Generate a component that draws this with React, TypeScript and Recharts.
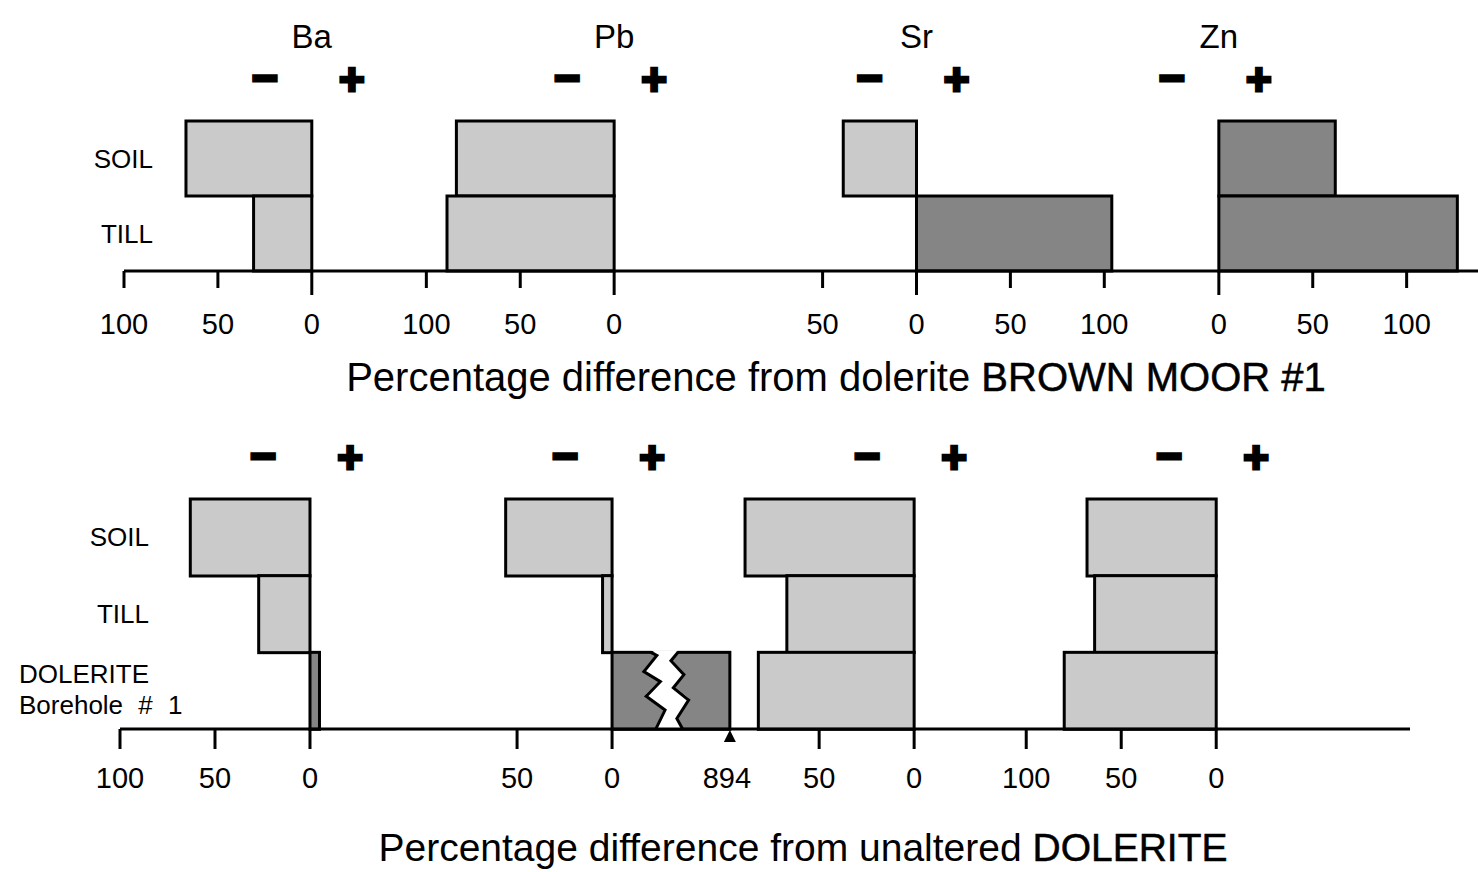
import { ComposedChart, Bar, XAxis, YAxis } from "recharts";

const FONT = "'Liberation Sans', Arial, Helvetica, sans-serif";
const LIGHT = "#cacaca";
const DARK = "#858585";

const elements = ["Ba", "Pb", "Sr", "Zn"];

// top panel: difference from dolerite BROWN MOOR #1
const topRows = ["SOIL", "TILL"];
const topBa = [-67, -31];
const topPb = [-84, -89];
const topSr = [-39, 104];
const topZn = [62, 127];
const topOffsets = [0, 161, 322, 483]; // where each element's zero sits on the shared axis
const topTicks = [
  [-100, -50, 0],
  [-100, -50, 0],
  [-50, 0, 50, 100],
  [0, 50, 100],
];

// bottom panel: difference from unaltered dolerite
const bottomRows = ["SOIL", "TILL", "DOLERITE"];
const bottomBa = [-63, -27, 5];
const bottomPb = [-56, -5, 894];
const bottomSr = [-89, -67, -82];
const bottomZn = [-68, -64, -80];
const bottomOffsets = [0, 159, 318, 477];
const bottomTicks = [
  [-100, -50, 0],
  [-50, 0, 894],
  [-50, 0],
  [-100, -50, 0],
];

// values past this are drawn on a broken axis
const BREAK_LIMIT = 200;
const BREAK_SHOWN = 62;
const shown = (v: number) => (v > BREAK_LIMIT ? BREAK_SHOWN : v);

const buildRows = (rows: string[], series: number[][], offsets: number[]) =>
  rows.map((row, i) => {
    const o: any = { row };
    series.forEach((vals, k) => {
      const v = shown(vals[i]);
      o[elements[k]] = [offsets[k] + Math.min(0, v), offsets[k] + Math.max(0, v)];
      o[elements[k] + "_raw"] = vals[i];
    });
    return o;
  });

// zigzag edges of the break, as fractions of the bar box
const ZIG_L = [[0.33, 0], [0.38, 0.04], [0.27, 0.25], [0.41, 0.38], [0.29, 0.57], [0.45, 0.75], [0.37, 1]];
const ZIG_R = [[0.56, 0], [0.5, 0.11], [0.61, 0.29], [0.52, 0.46], [0.65, 0.62], [0.55, 0.86], [0.6, 1]];

const makeShape = (el: string) => (p: any) => {
  const raw = p.payload[el + "_raw"];
  const { x, y, width, height } = p;
  const fill = raw > 0 ? DARK : LIGHT;
  const rect = (
    <rect x={x} y={y} width={width} height={height} fill={fill} stroke="#000" strokeWidth={3} />
  );
  if (raw <= BREAK_LIMIT) return rect;
  const pt = (a: number[]) => `${x + a[0] * width},${y + a[1] * height}`;
  const gap = [...ZIG_L, ...[...ZIG_R].reverse()].map(pt).join(" ");
  return (
    <g>
      {rect}
      <polygon points={gap} fill="#fff" stroke="none" transform="translate(0,-2)" />
      <polygon points={gap} fill="#fff" stroke="none" />
      <polyline points={ZIG_L.map(pt).join(" ")} fill="none" stroke="#000" strokeWidth={3} />
      <polyline points={ZIG_R.map(pt).join(" ")} fill="none" stroke="#000" strokeWidth={3} />
    </g>
  );
};

type PanelProps = {
  rows: string[];
  series: number[][];
  offsets: number[];
  ticks: number[][];
  domain: [number, number];
  width: number;
  height: number;
  headH: number;
  footH: number;
  yW: number;
  marginRight: number;
  names: boolean;
  tickLen: number;
  zeroLen: number;
  labelDy: number;
  title: [string, string];
  titleX: number;
  titleDy: number;
  titleSize: number;
  top: number;
};

const Panel = (P: PanelProps) => {
  const data = buildRows(P.rows, P.series, P.offsets);
  const meta = new Map<number, { label: string; zero: boolean; marker: boolean }>();
  P.ticks.forEach((arr, k) =>
    arr.forEach((t) => {
      meta.set(P.offsets[k] + shown(t), {
        label: String(Math.abs(t)),
        zero: t === 0,
        marker: t > BREAK_LIMIT,
      });
    })
  );
  const tickValues = Array.from(meta.keys()).sort((a, b) => a - b);

  const renderTick = (p: any) => {
    const m = meta.get(p.payload.value);
    if (!m) return <g />;
    const { x, y } = p;
    return (
      <g>
        {m.marker ? (
          <polygon points={`${x},${y + 1} ${x - 6},${y + 13} ${x + 6},${y + 13}`} fill="#000" />
        ) : (
          <line x1={x} y1={y} x2={x} y2={y + (m.zero ? P.zeroLen : P.tickLen)} stroke="#000" strokeWidth={3} />
        )}
        <text x={m.marker ? x - 3 : x} y={y + P.labelDy} textAnchor="middle" fontSize={29} fontFamily={FONT} fill="#000">
          {m.label}
        </text>
      </g>
    );
  };

  const renderHead = (p: any) => {
    const { x, y } = p;
    const k = P.offsets.indexOf(p.payload.value);
    return (
      <g fontFamily={FONT} fill="#000">
        {P.names && (
          <text x={x} y={y - 73} textAnchor="middle" fontSize={33}>
            {elements[k]}
          </text>
        )}
        <text x={x - 47} y={y - 41 + 13} textAnchor="middle" fontSize={44} fontWeight="bold" stroke="#000" strokeWidth={3.5}>
          −
        </text>
        <text x={x + 40} y={y - 41 + 15} textAnchor="middle" fontSize={44} fontWeight="bold" stroke="#000" strokeWidth={3}>
          +
        </text>
      </g>
    );
  };

  const renderRowTick = (p: any) => {
    const { x, y } = p;
    const v = p.payload.value;
    if (v === "DOLERITE") {
      return (
        <g fontFamily={FONT} fontSize={26} fill="#000">
          <text x={x - 101} y={y - 8}>DOLERITE</text>
          <text x={x - 101} y={y + 23} style={{ wordSpacing: 8 }}>
            Borehole # 1
          </text>
        </g>
      );
    }
    return (
      <text x={x + 29} y={y + 9} textAnchor="end" fontFamily={FONT} fontSize={26} fill="#000">
        {v}
      </text>
    );
  };

  const renderTitle = (p: any) => {
    const vb = p.viewBox;
    return (
      <text x={vb.x + P.titleX} y={vb.y + P.titleDy} textAnchor="middle" fontFamily={FONT} fontSize={P.titleSize} fill="#000">
        {P.title[0]}
        <tspan stroke="#000" strokeWidth={0.5}>{P.title[1]}</tspan>
      </text>
    );
  };

  return (
    <div style={{ position: "absolute", left: 0, top: P.top }}>
      <ComposedChart
        width={P.width}
        height={P.height}
        data={data}
        layout="vertical"
        barCategoryGap={0}
        margin={{ top: 0, right: P.marginRight, bottom: 0, left: 0 }}
      >
        <XAxis
          type="number"
          domain={P.domain}
          allowDataOverflow
          ticks={tickValues}
          interval={0}
          height={P.footH}
          axisLine={{ stroke: "#000", strokeWidth: 3 }}
          tickLine={false}
          tickSize={0}
          tickMargin={0}
          tick={renderTick}
          label={{ content: renderTitle }}
        />
        <XAxis
          xAxisId="head"
          orientation="top"
          type="number"
          domain={P.domain}
          allowDataOverflow
          ticks={P.offsets}
          interval={0}
          height={P.headH}
          axisLine={false}
          tickLine={false}
          tickSize={0}
          tickMargin={0}
          tick={renderHead}
        />
        {elements.map((el, k) => (
          <YAxis
            key={el}
            yAxisId={el}
            type="category"
            dataKey="row"
            width={P.yW}
            hide={k > 0}
            axisLine={false}
            tickLine={false}
            tickSize={0}
            tickMargin={0}
            tick={renderRowTick}
          />
        ))}
        {elements.map((el) => (
          <Bar key={el} dataKey={el} yAxisId={el} isAnimationActive={false} shape={makeShape(el)} />
        ))}
      </ComposedChart>
    </div>
  );
}

export default function App() {
  return (
    <div style={{ position: "absolute", left: 0, top: 0, width: 1478, height: 872, background: "#fff" }}>
      <Panel
        rows={topRows}
        series={[topBa, topPb, topSr, topZn]}
        offsets={topOffsets}
        ticks={topTicks}
        domain={[-100, 621]}
        width={1478}
        height={400}
        headH={121}
        footH={129}
        yW={124}
        marginRight={0}
        names
        tickLen={17}
        zeroLen={24}
        labelDy={63}
        title={["Percentage difference from dolerite ", "BROWN MOOR #1"]}
        titleX={712}
        titleDy={120}
        titleSize={40}
        top={0}
      />
      <Panel
        rows={bottomRows}
        series={[bottomBa, bottomPb, bottomSr, bottomZn]}
        offsets={bottomOffsets}
        ticks={bottomTicks}
        domain={[-100, 579]}
        width={1478}
        height={472}
        headH={99}
        footH={143}
        yW={120}
        marginRight={68}
        names={false}
        tickLen={20}
        zeroLen={20}
        labelDy={59}
        title={["Percentage difference from unaltered ", "DOLERITE"]}
        titleX={683}
        titleDy={132}
        titleSize={39}
        top={400}
      />
    </div>
  );
}
